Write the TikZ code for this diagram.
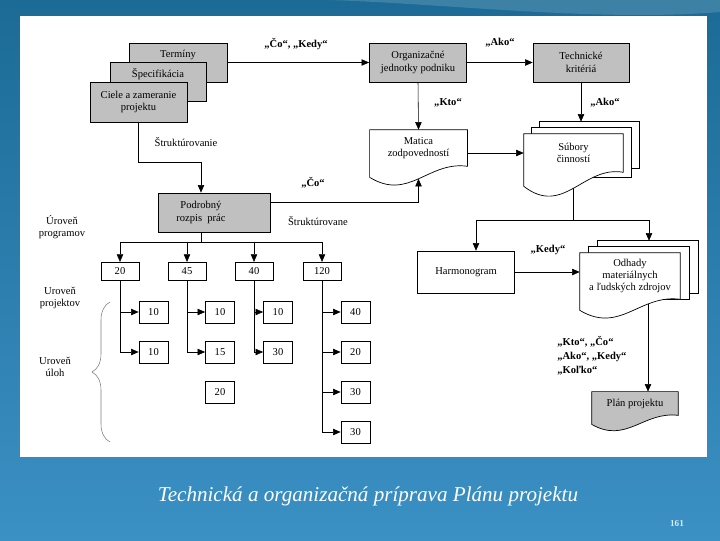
\documentclass[tikz,border=0pt]{standalone}
\usepackage{fontspec}
\setmainfont{Liberation Serif}
\usetikzlibrary{arrows.meta,calc,decorations.pathreplacing}
\definecolor{boxGray}{HTML}{C0C0C0}
\definecolor{bgTop}{HTML}{1C6B96}
\definecolor{bgBottom}{HTML}{3B90C4}
\definecolor{pageNoColor}{HTML}{D6ECF8}
\pgfdeclarelayer{back}
\pgfdeclarelayer{docs}
\pgfsetlayers{back,docs,main}
%% document outline with a wavy lower edge: node, drop of left corner, style
\newcommand{\docShape}[3]{%
  \draw[#3] (#1.north west) -- (#1.north east) -- (#1.south east)
    .. controls ($(#1.south east)!0.4!(#1.south west)+(0,-0.5*#2)$)
    and ($(#1.south east)!0.6!(#1.south west)+(0,3.2*#2)$)
    .. ($(#1.south west)+(0,#2)$) -- cycle;}

\begin{document}
\begin{tikzpicture}[x=0.025cm,y=-0.025cm,line width=0.5pt,%%
  boxFont/.style={font=\fontsize{7.5}{8.8}\selectfont},%%
  grayBox/.style={draw,fill=boxGray,boxFont,align=center,inner sep=1pt,minimum width=2.43cm,minimum height=0.98cm},%%
  whiteBox/.style={grayBox,fill=white},%%
  docNode/.style={boxFont,align=center,inner sep=1pt,minimum width=2.43cm,minimum height=0.9cm},%%
  docLine/.style={draw,fill=white,line width=0.5pt},%%
  numBox/.style={draw,fill=white,boxFont,inner sep=1pt,minimum width=0.73cm,minimum height=0.55cm},%%
  topBox/.style={numBox,minimum width=0.95cm,minimum height=0.44cm},%%
  quoteLabel/.style={font=\bfseries\fontsize{7.5}{9.8}\selectfont,align=left,inner sep=0pt},%%
  plainLabel/.style={boxFont,align=center,inner sep=0pt},%%
  arrowStyle/.style={-{Triangle[length=1.9mm,width=1.6mm]},draw},%%
  lineStyle/.style={-,draw},%%
  busStyle/.style={-,draw,line width=1.1pt},%%
  braceStyle/.style={decorate,decoration={brace,amplitude=0.45cm},draw=gray}
]
%%
%% Slide background and white panel.
\begin{pgfonlayer}{back}
\shade[top color=bgTop,bottom color=bgBottom] (0,0) rectangle (720,540);
\fill[white,opacity=0.15] (330,0) .. controls (450,4) and (600,22) .. (720,12) -- (720,0) -- cycle;
\fill[white] (20,16) rectangle (707,457);
\end{pgfonlayer}
\useasboundingbox (0,0) rectangle (720,540);
%%
%% Stacked input boxes.
\node[grayBox,minimum width=2.45cm] (terminy) at (178,62.5) {};
\node[plainLabel] (terminyTxt) at (178,55) {Termíny};
\node[grayBox,minimum width=2.4cm] (specif) at (158,81.5) {};
\node[plainLabel] (specifTxt) at (158,74) {Špecifikácia};
\node[grayBox,minimum height=1cm] (ciele) at (138.5,102) {Ciele a zameranie\\projektu};
%%
\node[grayBox] (org) at (418,62.5) {Organizačné\\jednotky podniku};
\node[grayBox,minimum width=2.4cm] (tech) at (581,62.5) {Technické\\kritériá};
\node[grayBox,minimum width=2.8cm] (podrob) at (214.5,212.5) {};
\node[plainLabel] (podrobTxt) at (201,212.5) {Podrobný\\rozpis~ prác};
\node[whiteBox,minimum height=1.05cm] (harm) at (466,272) {Harmonogram};
%%
%% Documents.
\node[docNode] (matica) at (418.5,148) {Matica\\zodpovedností};
\node[docNode,minimum width=2.475cm,minimum height=0.95cm] (subory) at (573.5,153) {Súbory\\činností};
\node[docNode,minimum width=2.5cm,minimum height=1.15cm] (odhady) at (630,276) {Odhady\\materiálnych\\a ľudských zdrojov};
\node[docNode,minimum width=2.15cm,minimum height=0.58cm] (plan) at (635,403.5) {Plán projektu};
\begin{pgfonlayer}{docs}
\docShape{matica}{11}{docLine}
\draw[docLine] ($(subory.north west)+(16,-12)$) rectangle ($(subory.south east)+(16,-4)$);
\draw[docLine] ($(subory.north west)+(8,-6)$) rectangle ($(subory.south east)+(8,5)$);
\docShape{subory}{14}{docLine}
\draw[docLine] ($(odhady.north west)+(18,-12)$) rectangle ($(odhady.south east)+(18,-6)$);
\draw[docLine] ($(odhady.north west)+(9,-6)$) rectangle ($(odhady.south east)+(9,0)$);
\docShape{odhady}{11}{docLine}
\docShape{plan}{9}{docLine,fill=boxGray}
\end{pgfonlayer}
%%
%% Top row connectors.
\draw[arrowStyle] (terminy.east) -- (org.west);
\draw[arrowStyle] (org.east) -- (tech.west);
\draw[arrowStyle] (org.south) -- (matica.north);
\coordinate (suboryTop) at ($(subory.north)+(0,-12)$);
\draw[arrowStyle] (tech.south) -- (tech.south |- suboryTop);
\draw[arrowStyle] (matica.east |- subory.west) -- (subory.west);
%% Goals down to the work breakdown, and back up to the matrix.
\draw[arrowStyle] (ciele.south) -- ++(0,40) -| (podrobTxt |- podrob.north);
\coordinate (maticaIn) at ($(matica.south)+(0,12.5)$);
\draw[arrowStyle] ([yshift=0.26cm]podrob.east) -| (maticaIn);
%% Activity sets to schedule and estimates.
\coordinate (suboryOut) at ($(subory.south)+(0,16)$);
\coordinate (split) at ($(suboryOut)+(0,32)$);
\coordinate (harmIn) at ($(harm.north)+(10,0)$);
\coordinate (odhadyIn) at ($(odhady.north)+(19,-12)$);
\draw[lineStyle] (suboryOut) -- (split);
\draw[arrowStyle] (split) -| (harmIn);
\draw[arrowStyle] (split) -| (odhadyIn);
\draw[arrowStyle] (harm.east) -- (harm.east -| odhady.west);
\coordinate (odhadyOut) at ($(odhady.south)+(18,4.5)$);
\draw[arrowStyle] (odhadyOut) -- (odhadyOut |- plan.north);
%%
%% Programme level.
\foreach \n/\x/\v in {n20/120/20,n45/187/45,n40/254/40,n120/322/120}
  \node[topBox] (\n) at (\x,271) {\v};
\coordinate (bus) at ($(podrobTxt |- podrob.south)+(0,10)$);
\draw[lineStyle] (podrobTxt |- podrob.south) -- (bus);
\draw[busStyle] (n20 |- bus) -- (n120 |- bus);
\foreach \n in {n20,n45,n40,n120}
  \draw[arrowStyle] (\n |- bus) -- (\n.north);
%% Project and task levels.
\foreach \n/\x/\y/\v in {c11/153.5/312/10,c12/153.5/352/10,c21/220/312/10,c22/220/352/15,%%
    c23/220/392/20,c31/278/312/10,c32/278/352/30,c41/355.5/312/40,c42/355.5/352/20,%%
    c43/355.5/392/30,c44/355.5/432/30}
  \node[numBox] (\n) at (\x,\y) {\v};
\foreach \p/\c in {n20/c11,n20/c12,n45/c21,n45/c22,n40/c31,n40/c32,n120/c41,n120/c42,n120/c43,n120/c44}
  \draw[arrowStyle] (\p.south) |- (\c.west);
%%
%% Labels.
\node[quoteLabel] (coKedy) at (296,44) {„Čo“, „Kedy“};
\node[quoteLabel] (akoTop) at (500,43) {„Ako“};
\node[quoteLabel] (kto) at (448,103) {„Kto“};
\node[quoteLabel] (akoRight) at (605,103) {„Ako“};
\node[quoteLabel] (co) at (313,183) {„Čo“};
\node[quoteLabel] (kedy) at (548,250) {„Kedy“};
\node[quoteLabel,anchor=north west] (allQ) at (557,336) {„Kto“, „Čo“\\„Ako“, „Kedy“\\„Koľko“};
\node[plainLabel] (struktA) at (186,142) {Štruktúrovanie};
\node[plainLabel] (struktB) at (318,221) {Štruktúrovane};
\node[plainLabel] (lvlProg) at (62,227) {Úroveň\\programov};
\node[plainLabel] (lvlProj) at (60,298) {Uroveň\\projektov};
\node[plainLabel] (lvlUloh) at (55,367) {Uroveň\\úloh};
\coordinate (braceTop) at (110,302);
\coordinate (braceBot) at (110,442);
\draw[braceStyle] (braceBot) -- (braceTop);
%%
%% Slide title and number.
\node[font=\itshape\fontsize{15}{17}\selectfont,text=white] (title) at (368,496) {Technická a organizačná príprava Plánu projektu};
\node[font=\bfseries\fontsize{6.5}{7}\selectfont,text=pageNoColor] (pageNo) at (677,524) {161};
\end{tikzpicture}
\end{document}
